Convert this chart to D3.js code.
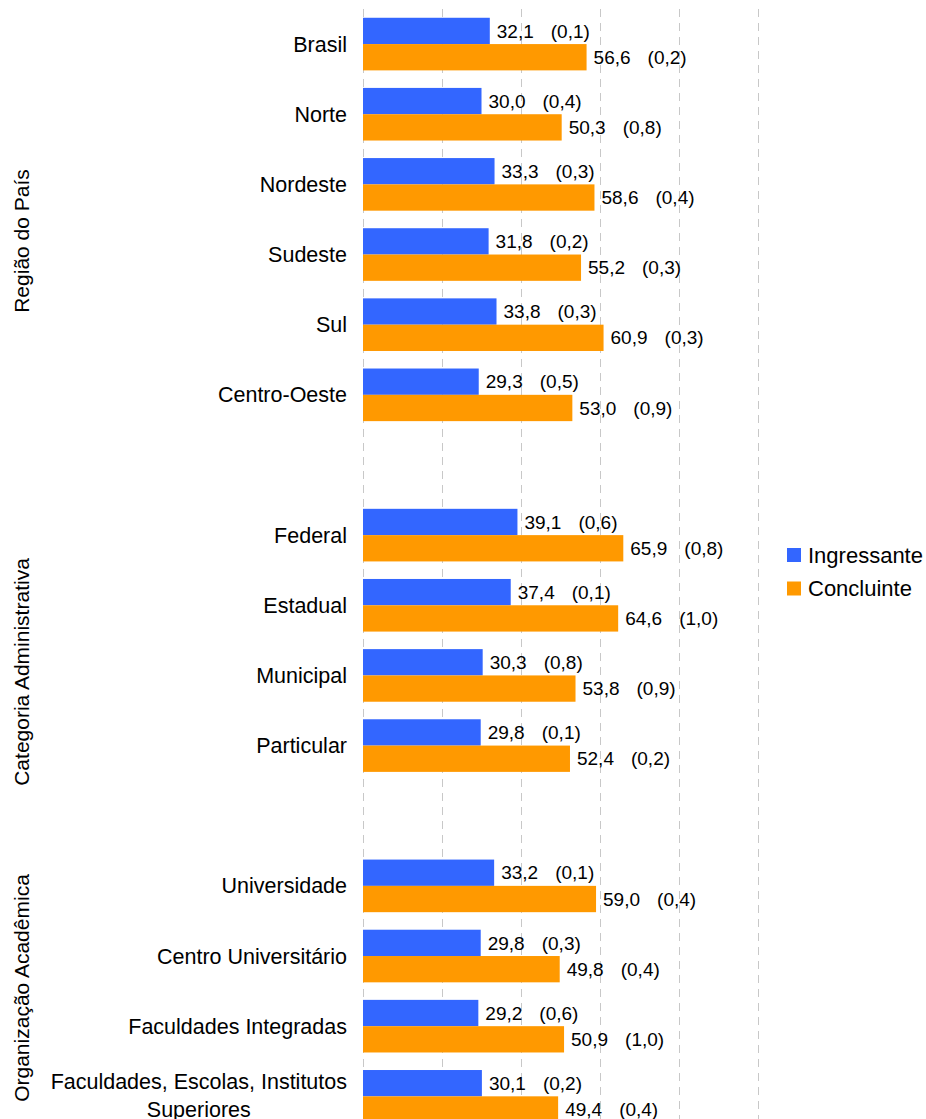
<!DOCTYPE html>
<html>
<head>
<meta charset="utf-8">
<script src="https://cdn.jsdelivr.net/npm/d3@7"></script>
<style>
  html, body { margin: 0; padding: 0; background: #fff; }
  svg { display: block; font-family: "Liberation Sans", Arial, sans-serif; }
</style>
</head>
<body>
<svg id="chart" width="926" height="1119"></svg>
<script>
// ---- data ----
const categories = ["Brasil", "Norte", "Nordeste", "Sudeste", "Sul", "Centro-Oeste",
  "Federal", "Estadual", "Municipal", "Particular",
  "Universidade", "Centro Universitário", "Faculdades Integradas", "Faculdades, Escolas, Institutos Superiores"];
const categoryLines = {
  "Faculdades, Escolas, Institutos Superiores": ["Faculdades, Escolas, Institutos", "Superiores"]
};
const groupTitles = ["Região do País", "Categoria Administrativa", "Organização Acadêmica"];
const groupOf = [0, 0, 0, 0, 0, 0, 1, 1, 1, 1, 2, 2, 2, 2];
const seriesNames = ["Ingressante", "Concluinte"];
const ingressante = [32.1, 30.0, 33.3, 31.8, 33.8, 29.3, 39.1, 37.4, 30.3, 29.8, 33.2, 29.8, 29.2, 30.1];
const ingressanteErr = [0.1, 0.4, 0.3, 0.2, 0.3, 0.5, 0.6, 0.1, 0.8, 0.1, 0.1, 0.3, 0.6, 0.2];
const concluinte = [56.6, 50.3, 58.6, 55.2, 60.9, 53.0, 65.9, 64.6, 53.8, 52.4, 59.0, 49.8, 50.9, 49.4];
const concluinteErr = [0.2, 0.8, 0.4, 0.3, 0.3, 0.9, 0.8, 1.0, 0.9, 0.2, 0.4, 0.4, 1.0, 0.4];
const gridTicks = [0, 20, 40, 60, 80, 100];
const colors = ["#3366FF", "#FF9900"];

// ---- layout ----
const svg = d3.select("#chart");
const x0 = 363, x1 = 758;
const yTop = 9, step = 70.15;

// slot order with spacer slots between groups
const slots = [];
categories.forEach((c, i) => {
  if (i > 0 && groupOf[i] !== groupOf[i - 1]) slots.push("__gap" + groupOf[i]);
  slots.push(c);
});

const x = d3.scaleLinear().domain([0, 100]).range([x0, x1]);
const y = d3.scaleBand().domain(slots).range([yTop, yTop + slots.length * step])
  .paddingInner(0.25).paddingOuter(0.125);
const ySub = d3.scaleBand().domain(seriesNames).range([0, y.bandwidth()]);

const locale = d3.formatLocale({ decimal: ",", thousands: ".", grouping: [3], currency: ["R$", ""] });
const fmt = locale.format(".1f");

// gridlines
svg.append("g").selectAll("line").data(gridTicks).join("line")
  .attr("x1", d => Math.round(x(d)) + 0.5).attr("x2", d => Math.round(x(d)) + 0.5)
  .attr("y1", yTop).attr("y2", yTop + slots.length * step)
  .attr("stroke", "#c8c8c8").attr("stroke-width", 1).attr("stroke-dasharray", "8,6");

const rows = categories.map((c, i) => ({
  cat: c,
  vals: [
    { s: seriesNames[0], v: ingressante[i], e: ingressanteErr[i] },
    { s: seriesNames[1], v: concluinte[i], e: concluinteErr[i] }
  ]
}));

const g = svg.append("g").selectAll("g").data(rows).join("g")
  .attr("transform", d => `translate(0,${y(d.cat)})`);

g.selectAll("rect").data(d => d.vals).join("rect")
  .attr("x", x(0)).attr("y", d => ySub(d.s))
  .attr("width", d => x(d.v) - x(0)).attr("height", ySub.bandwidth())
  .attr("fill", (d, i) => colors[i]);

const lab = g.selectAll("g.lab").data(d => d.vals).join("g").attr("class", "lab")
  .attr("transform", d => `translate(${x(d.v) + 7},${ySub(d.s) + ySub.bandwidth() / 2})`);
lab.append("text").attr("dy", "0.35em").attr("font-size", 19).attr("fill", "#000")
  .text(d => fmt(d.v));
lab.append("text").attr("x", 54).attr("dy", "0.35em").attr("font-size", 19).attr("fill", "#000")
  .text(d => "(" + fmt(d.e) + ")");

// category labels
const labelRight = 347;
rows.forEach(r => {
  const cy = y(r.cat) + y.bandwidth() / 2;
  const lines = categoryLines[r.cat];
  if (!lines) {
    svg.append("text").attr("x", labelRight).attr("y", cy).attr("dy", "0.35em")
      .attr("text-anchor", "end").attr("font-size", 21.5).attr("fill", "#000").text(r.cat);
  } else {
    const t = svg.append("text").attr("font-size", 21.5).attr("fill", "#000").attr("text-anchor", "middle");
    const lh = 27.5;
    const tsp = lines.map((ln, k) => t.append("tspan").attr("y", cy - 1 + (k - (lines.length - 1) / 2) * lh)
      .attr("dy", "0.35em").text(ln));
    let maxW = 0;
    tsp.forEach(ts => { maxW = Math.max(maxW, ts.node().getComputedTextLength()); });
    tsp.forEach(ts => ts.attr("x", labelRight - maxW / 2));
  }
});

// group titles (rotated)
const titleCenters = [241, 672, 988];
groupTitles.forEach((t, i) => {
  svg.append("text").attr("transform", `translate(29,${titleCenters[i]}) rotate(-90)`)
    .attr("text-anchor", "middle").attr("font-size", 21).attr("fill", "#000").text(t);
});

// legend
const leg = svg.append("g").selectAll("g").data(seriesNames).join("g")
  .attr("transform", (d, i) => `translate(787,${548 + i * 33.5})`);
leg.append("rect").attr("width", 14).attr("height", 14).attr("fill", (d, i) => colors[i]);
leg.append("text").attr("x", 21).attr("y", 7).attr("dy", "0.35em").attr("font-size", 22)
  .attr("fill", "#000").text(d => d);
</script>
</body>
</html>
